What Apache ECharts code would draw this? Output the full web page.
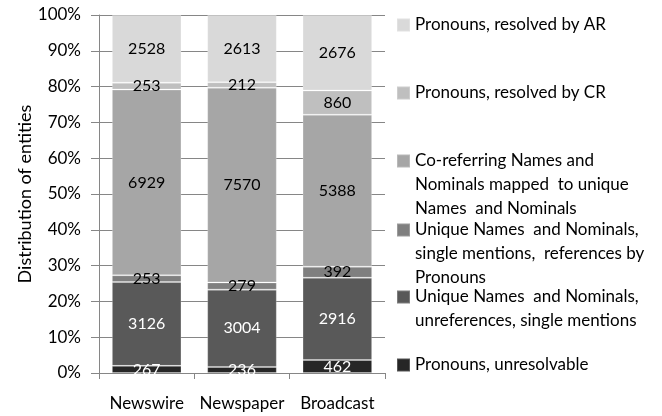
<!DOCTYPE html>
<html>
<head>
<meta charset="utf-8">
<script src="https://cdn.jsdelivr.net/npm/echarts@6/dist/echarts.min.js"></script>
<style>
  html, body { margin: 0; padding: 0; background: #fff; }
  #entity_chart { width: 662px; height: 416px; }
</style>
</head>
<body>
<div id="entity_chart"></div>
<script>
// 类别和原始数量（从下到上）
var sources = ['Newswire', 'Newspaper', 'Broadcast']
var unresolvable = [267, 236, 462]
var uniqueUnref = [3126, 3004, 2916]
var uniqueRef = [253, 279, 392]
var coReferring = [6929, 7570, 5388]
var resolvedCR = [253, 212, 860]
var resolvedAR = [2528, 2613, 2676]
var yTicks = [0, 10, 20, 30, 40, 50, 60, 70, 80, 90, 100]

var seriesNames = [
  'Pronouns, unresolvable',
  'Unique Names and Nominals, unreferences, single mentions',
  'Unique Names and Nominals, single mentions, references by Pronouns',
  'Co-referring Names and Nominals mapped to unique Names and Nominals',
  'Pronouns, resolved by CR',
  'Pronouns, resolved by AR',
]
var legendLines = [
  ['Pronouns, unresolvable'],
  ['Unique Names  and Nominals,', 'unreferences, single mentions'],
  ['Unique Names  and Nominals,', 'single mentions,  references by', 'Pronouns'],
  ['Co-referring Names and', 'Nominals mapped  to unique', 'Names  and Nominals'],
  ['Pronouns, resolved by CR'],
  ['Pronouns, resolved by AR'],
]
var seriesValues = [unresolvable, uniqueUnref, uniqueRef, coReferring, resolvedCR, resolvedAR]
var seriesColors = ['#262626', '#595959', '#7f7f7f', '#a6a6a6', '#bfbfbf', '#d9d9d9']
var labelColors = ['#fff', '#fff', '#000', '#000', '#000', '#000']
// 图例方块中心的 y 坐标
var legendCenters = [365, 297, 230, 161, 93, 25]

var FONT = 'Lato'
var LH = 24

var totals = sources.map(function (s, i) {
  var sum = 0
  seriesValues.forEach(function (arr) { sum += arr[i] })
  return sum
})

var series = seriesValues.map(function (arr, k) {
  return {
    name: seriesNames[k],
    type: 'bar',
    stack: 'total',
    barCategoryGap: '27%',
    itemStyle: { color: seriesColors[k], borderColor: 'rgba(255,255,255,0.22)', borderWidth: 1 },
    label: {
      show: true,
      position: 'inside',
      color: labelColors[k],
      fontFamily: FONT,
      fontSize: 16,
      formatter: function (p) { return arr[p.dataIndex] },
    },
    data: arr.map(function (v, i) { return (v / totals[i]) * 100 }),
  }
})

// 多行图例：前面补空行，让方块对齐第一行
var legends = seriesNames.map(function (name, k) {
  var n = legendLines[k].length
  var pad = []
  for (var i = 1; i < n; i++) pad.push('')
  return {
    orient: 'vertical',
    left: 396,
    top: legendCenters[k] - (2 * n - 1) * LH / 2,
    padding: 0,
    itemWidth: 13,
    itemHeight: 13,
    icon: 'rect',
    selectedMode: false,
    data: [name],
    formatter: function () { return pad.concat(legendLines[k]).join('\n') },
    textStyle: {
      fontFamily: FONT,
      fontSize: 17,
      color: '#000',
      lineHeight: LH,
    },
  }
})

var entity_chart = echarts.init(document.getElementById('entity_chart'))
var option = {
  animation: false,
  grid: {
    left: 99,
    right: 277,
    top: 15,
    bottom: 43,
  },
  legend: legends,
  xAxis: {
    type: 'category',
    data: sources,
    axisLine: { lineStyle: { color: '#868686', width: 1 } },
    axisTick: { show: true, length: 6, lineStyle: { color: '#868686' } },
    axisLabel: { color: '#000', fontFamily: FONT, fontSize: 17, margin: 22, interval: 0 },
  },
  yAxis: {
    type: 'value',
    min: yTicks[0],
    max: yTicks[yTicks.length - 1],
    interval: 10,
    name: 'Distribution of entities',
    nameLocation: 'middle',
    nameGap: 64,
    nameTextStyle: { color: '#000', fontFamily: FONT, fontSize: 18 },
    axisLine: { show: true, lineStyle: { color: '#868686', width: 1 } },
    axisTick: { show: true, length: 8, lineStyle: { color: '#868686' } },
    axisLabel: { color: '#000', fontFamily: FONT, fontSize: 17, margin: 18, formatter: '{value}%' },
    splitLine: { show: true, lineStyle: { color: '#868686', width: 1 } },
  },
  series: series,
}
entity_chart.setOption(option)
</script>
</body>
</html>
